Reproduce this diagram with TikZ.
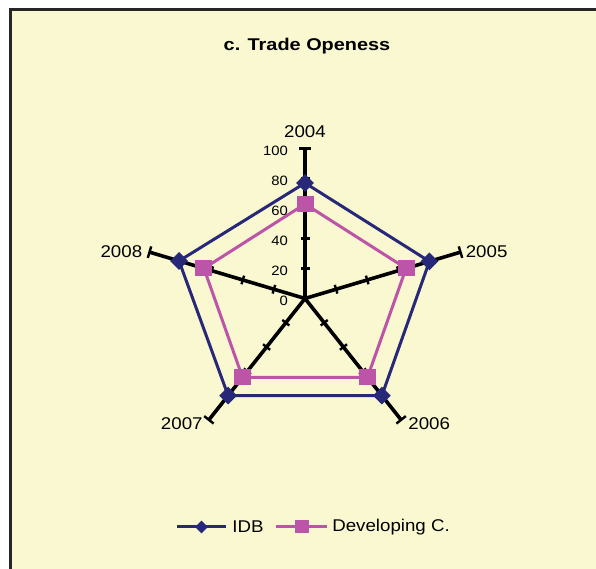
\documentclass[tikz,border=0pt]{standalone}
\usepackage{fontspec}
\setmainfont{Liberation Sans}
\usetikzlibrary{shapes.geometric, positioning, calc}
\definecolor{chartbg}{RGB}{250,248,208}
\definecolor{idbblue}{RGB}{40,40,120}
\definecolor{devpink}{RGB}{188,84,168}

\tikzset{
  axisline/.style={line width=3.6pt, black},
  tickline/.style={line width=2.4pt, black},
  idbline/.style={line width=3pt, idbblue},
  devline/.style={line width=3pt, devpink},
  idbmark/.style={diamond, fill=idbblue, inner sep=0pt, minimum size=18pt},
  devmark/.style={rectangle, fill=devpink, inner sep=0pt, minimum width=17pt, minimum height=16pt},
  yearlabel/.style={font=\fontsize{17}{20}\selectfont, inner sep=1pt, xscale=1.1},
  scalelabel/.style={font=\fontsize{13.5}{16}\selectfont, inner sep=0pt, anchor=east, xscale=1.1},
  legendlabel/.style={font=\fontsize{17}{20}\selectfont, inner sep=1pt, xscale=1.1}
}

\begin{document}
\begin{tikzpicture}[x=1pt, y=1pt]
\useasboundingbox (0,0) rectangle (596,569);
\fill[chartbg] (10,0) rectangle (596,559.5);
\draw[line width=3pt, black!85] (10.5,0) -- (10.5,559) -- (596,559);

\node[font=\bfseries\fontsize{17}{20}\selectfont, xscale=1.17] (title) at (307,523) {c. Trade Openess};

\coordinate (O) at (305,270.5);
\begin{scope}[shift={(O)}, x=1.635pt, y=1.5pt]
  % axes and ticks
  \foreach \a/\yr in {90/2004, 18/2005, -54/2006, -126/2007, 162/2008}{
    \coordinate (a\yr) at (\a:100);
    \draw[axisline] (O) -- (a\yr);
    \foreach \t in {20,40,60,80}
      \draw[tickline] ($(\a:\t)!4.5pt!90:(O)$) -- ($(\a:\t)!4.5pt!-90:(O)$);
    \draw[tickline] ($(a\yr)!6pt!90:(O)$) -- ($(a\yr)!6pt!-90:(O)$);
  }
  % data
  \foreach \a/\yr/\v in {90/2004/77, 18/2005/80, -54/2006/80, -126/2007/80, 162/2008/81}
    \coordinate (i\yr) at (\a:\v);
  \foreach \a/\yr/\v in {90/2004/63, 18/2005/65, -54/2006/65, -126/2007/65, 162/2008/65}
    \coordinate (d\yr) at (\a:\v);
\end{scope}

\draw[idbline] (i2004) -- (i2005) -- (i2006) -- (i2007) -- (i2008) -- cycle;
\draw[devline] (d2004) -- (d2005) -- (d2006) -- (d2007) -- (d2008) -- cycle;
\foreach \yr in {2004,...,2008}{
  \node[idbmark] (mi\yr) at (i\yr) {};
  \node[devmark] (md\yr) at (d\yr) {};
}

% scale
\foreach \t in {0,20,...,100}
  \node[scalelabel] (s\t) at (288, 268.5+1.5*\t) {\t};

% years
\node[yearlabel, above=10pt of a2004] (y2004) {2004};
\node[yearlabel, right=4pt of a2005] (y2005) {2005};
\node[yearlabel, right=6pt of a2006, yshift=-4pt] (y2006) {2006};
\node[yearlabel, left=5pt of a2007, yshift=-4pt] (y2007) {2007};
\node[yearlabel, left=6pt of a2008] (y2008) {2008};

% legend
\coordinate (li1) at (177,42);
\coordinate (li2) at (226,42);
\draw[idbline] (li1) -- (li2);
\node[idbmark, minimum size=13pt] (lim) at ($(li1)!.5!(li2)$) {};
\node[legendlabel, right=5pt of li2] (lit) {IDB};
\coordinate (ld1) at (276,42);
\coordinate (ld2) at (327,42);
\draw[devline] (ld1) -- (ld2);
\node[devmark, minimum width=14pt, minimum height=13pt] (ldm) at ($(ld1)!.5!(ld2)$) {};
\node[legendlabel, right=4pt of ld2] (ldt) {Developing C.};
\end{tikzpicture}
\end{document}
